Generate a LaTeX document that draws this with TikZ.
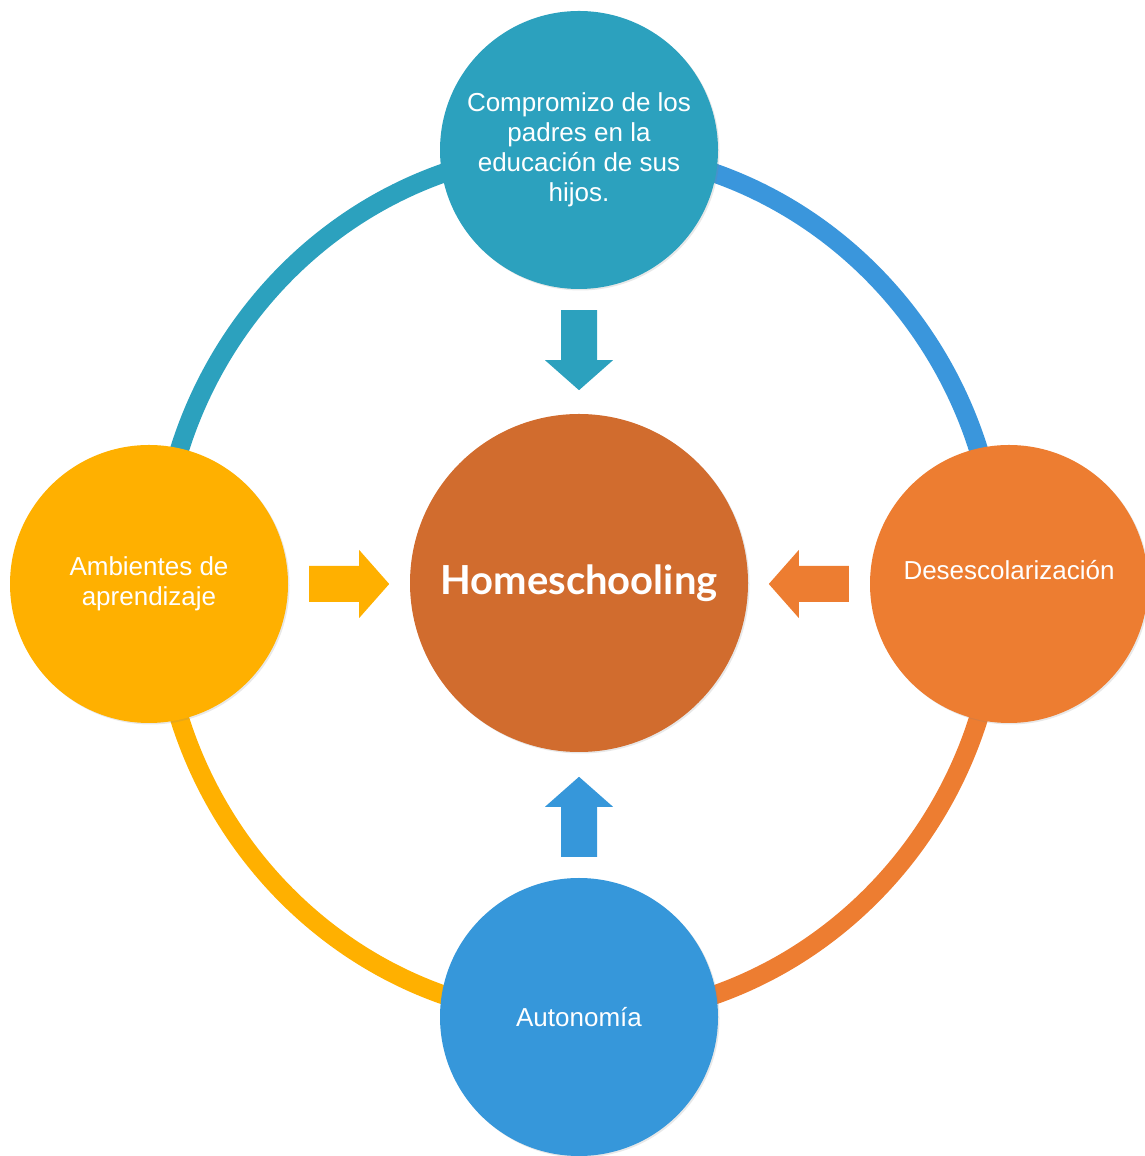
\documentclass[tikz,border=0pt]{standalone}
\usepackage{fontspec}
\setmainfont{Liberation Sans}
\newfontfamily\homefont{Lato}
\usetikzlibrary{calc,shadows}
\definecolor{cteal}{HTML}{2CA1BE}
\definecolor{cblue}{HTML}{3697DA}
\definecolor{cbluering}{HTML}{3A96DC}
\definecolor{chub}{HTML}{D16C2E}
\definecolor{corange}{HTML}{ED7D31}
\definecolor{cyellow}{HTML}{FFB000}
\tikzset{
  ringpart/.style={line width=19pt},
  outercirc/.style={circle, minimum size=278pt, inner sep=0pt, text=white,
    align=center, font=\fontsize{26}{30}\selectfont,
    drop shadow={shadow xshift=1.5pt,shadow yshift=-1.5pt,opacity=0.18}},
  hubcirc/.style={circle, minimum size=338pt, inner sep=0pt, text=white,
    font=\homefont\bfseries\fontsize{40}{48}\selectfont,
    drop shadow={shadow xshift=1.5pt,shadow yshift=-1.5pt,opacity=0.18}},
  blockarrow/.pic={\fill[pic actions] (0,-18) -- (50,-18) -- (50,-34) -- (80,0)
    -- (50,34) -- (50,18) -- (0,18) -- cycle;}
}
\begin{document}
\begin{tikzpicture}[x=1pt,y=1pt]
\useasboundingbox (0,0) rectangle (1145,1156);
\coordinate (O) at (579,572);
% ring
\draw[ringpart,cteal] ($(O)+(0,434)$) arc[start angle=90,end angle=180,x radius=420,y radius=434];
\draw[ringpart,cbluering] ($(O)+(420,0)$) arc[start angle=0,end angle=90,x radius=420,y radius=434];
\draw[ringpart,corange] ($(O)+(0,-434)$) arc[start angle=270,end angle=360,x radius=420,y radius=434];
\draw[ringpart,cyellow] ($(O)+(-420,0)$) arc[start angle=180,end angle=270,x radius=420,y radius=434];
% circles
\node[outercirc, fill=cteal] (top) at (579,1006) {Compromizo de los\\padres en la\\educación de sus\\hijos.};
\node[outercirc, fill=cyellow] (left) at (149,572) {Ambientes de\\aprendizaje};
\node[outercirc, fill=corange, text height=19pt, text depth=28pt] (right) at (1009,572) {Desescolarización};
\node[outercirc, fill=cblue] (bottom) at (579,139) {Autonomía};
\node[hubcirc, fill=chub] (hub) at (579,573) {Homeschooling};
% arrows
\pic[fill=cteal, rotate=-90] at ($(top.south)+(0,-21)$) {blockarrow};
\pic[fill=cyellow] at ($(left.east)+(21,0)$) {blockarrow};
\pic[fill=corange, rotate=180] at ($(right.west)+(-21,0)$) {blockarrow};
\pic[fill=cblue, rotate=90] at ($(bottom.north)+(0,21)$) {blockarrow};
\end{tikzpicture}
\end{document}
